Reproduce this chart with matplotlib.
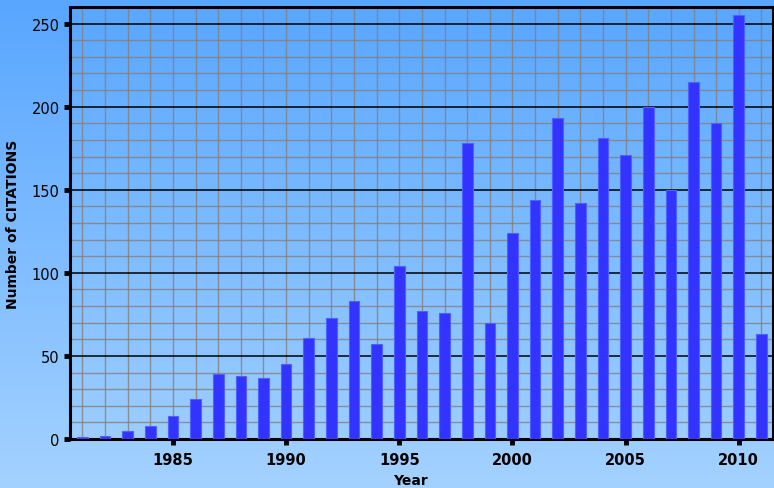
import numpy as np
import matplotlib.pyplot as plt
from matplotlib.colors import LinearSegmentedColormap
from matplotlib.ticker import MultipleLocator

years = list(range(1981, 2012))
citations = [1, 2, 5, 8, 14, 24, 39, 38, 37, 45,
             61, 73, 83, 57, 104, 77, 76, 178, 70, 124,
             144, 193, 142, 181, 171, 200, 150, 215, 190, 255,
             63]

fig = plt.figure(figsize=(7.74, 4.89), dpi=100)

# gradient background over the whole figure
bg = fig.add_axes([0, 0, 1, 1], zorder=-10)
grad = np.linspace(0, 1, 256).reshape(-1, 1)
cmap = LinearSegmentedColormap.from_list("bg", ["#58a6ff", "#a4d2ff"])
bg.imshow(grad, aspect="auto", cmap=cmap, extent=[0, 1, 0, 1], origin="upper")
bg.axis("off")

ax = fig.add_axes([0.0904, 0.1002, 0.908, 0.8834])
ax.set_facecolor("none")

ax.bar(years, citations, width=0.47, color="#3333ff", edgecolor="#5060ff",
       linewidth=0.8, zorder=3)

ax.set_xlim(1980.45, 2011.5)
ax.set_ylim(0, 260)

ax.xaxis.set_major_locator(MultipleLocator(5))
ax.xaxis.set_minor_locator(MultipleLocator(1))
ax.yaxis.set_major_locator(MultipleLocator(50))
ax.yaxis.set_minor_locator(MultipleLocator(10))

grid_col = "#867f7a"
ax.grid(which="minor", color=grid_col, alpha=0.8, linewidth=1.0, zorder=1)
ax.grid(which="major", axis="x", color=grid_col, alpha=0.8, linewidth=1.0, zorder=1)
ax.grid(which="major", axis="y", color="black", linewidth=1.1, zorder=2)
ax.set_axisbelow(True)

for s in ax.spines.values():
    s.set_linewidth(2.2)
    s.set_color("black")

ax.tick_params(which="major", direction="out", length=4, width=3.5,
               labelsize=10.5, color="black")
ax.tick_params(which="minor", length=0)
ax.tick_params(axis="x", pad=5)
for lbl in ax.get_xticklabels():
    lbl.set_fontweight("bold")

ax.set_xlabel("Year", fontsize=10, fontweight="bold")
ax.xaxis.set_label_coords(0.485, -0.078)
ax.set_ylabel("Number of CITATIONS", fontsize=10, fontweight="bold", labelpad=8)

fig.savefig("out.png", dpi=100)
